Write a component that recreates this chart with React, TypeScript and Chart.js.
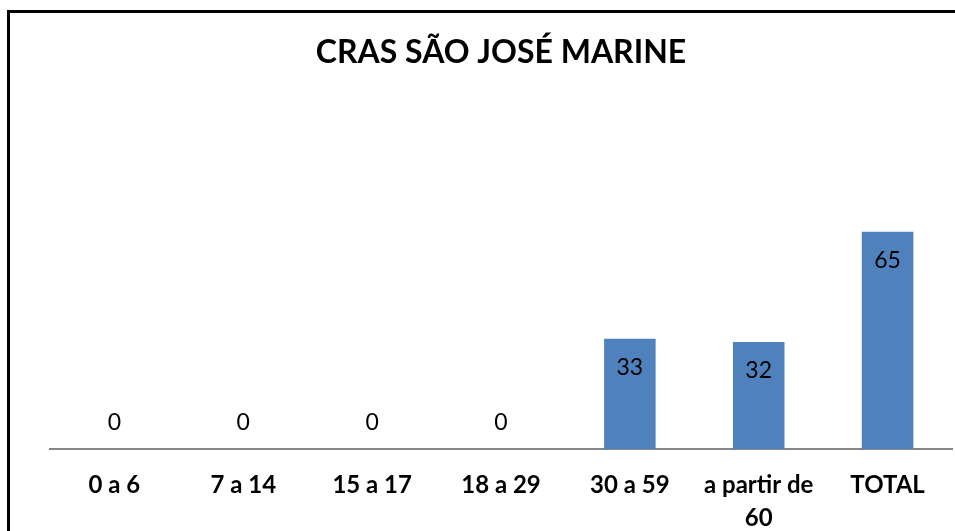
import React, { useEffect, useRef } from "react";
import { Chart, registerables } from "chart.js";

Chart.register(...registerables);

const TITLE = "CRAS SÃO JOSÉ MARINE";
const categories: (string | string[])[] = ["0 a 6", "7 a 14", "15 a 17", "18 a 29", "30 a 59", ["a partir de", "60"], "TOTAL"];
const values = [0, 0, 0, 0, 33, 32, 65];
const FONT = "Lato, 'Open Sans', sans-serif";

const framePlugin = {
  id: "frame",
  beforeDraw(chart: any) {
    const ctx = chart.ctx;
    ctx.save();
    ctx.fillStyle = "#ffffff";
    ctx.fillRect(0, 0, chart.width, chart.height);
    ctx.strokeStyle = "#000000";
    ctx.lineWidth = 3;
    ctx.beginPath();
    ctx.moveTo(8.5, chart.height + 5);
    ctx.lineTo(8.5, 11.5);
    ctx.lineTo(chart.width + 5, 11.5);
    ctx.stroke();
    ctx.restore();
  },
};

const labelPlugin = {
  id: "valueLabels",
  afterDatasetsDraw(chart: any) {
    const ctx = chart.ctx;
    const meta = chart.getDatasetMeta(0);
    ctx.save();
    ctx.fillStyle = "#000000";
    ctx.font = `23px ${FONT}`;
    ctx.textAlign = "center";
    ctx.textBaseline = "middle";
    meta.data.forEach((bar: any, i: number) => {
      const v = values[i];
      const y = v === 0 ? bar.base - 26 : bar.y + 29;
      ctx.fillText(String(v), bar.x, y);
    });
    ctx.restore();
  },
};

export default function App() {
  const ref = useRef<HTMLCanvasElement | null>(null);
  useEffect(() => {
    if (!ref.current) return;
    const chart = new Chart(ref.current, {
      type: "bar",
      data: {
        labels: categories,
        datasets: [
          {
            data: values,
            backgroundColor: "#4F81BD",
            borderWidth: 0,
            barPercentage: 0.4,
            categoryPercentage: 1,
          },
        ],
      },
      options: {
        animation: false,
        responsive: false,
        layout: { padding: { left: 50, right: 3, top: 0, bottom: 0 } },
        plugins: {
          legend: { display: false },
          tooltip: { enabled: false },
          title: {
            display: true,
            text: TITLE,
            color: "#000000",
            font: { family: FONT, size: 32, weight: "bold", lineHeight: 1.2 },
            padding: { top: 33, bottom: 143.6 },
          },
        },
        scales: {
          x: {
            grid: { display: false, drawTicks: false },
            border: { display: true, color: "#868686", width: 2 },
            ticks: {
              color: "#000000",
              font: { family: FONT, size: 24, weight: "bold", lineHeight: 1.375 },
              padding: 20,
              maxRotation: 0,
              autoSkip: false,
            },
            afterFit(scale: any) {
              scale.height = 82;
            },
          },
          y: {
            display: false,
            min: 0,
            max: 70,
          },
        },
      },
      plugins: [framePlugin, labelPlugin],
    });
    return () => chart.destroy();
  }, []);
  return (
    <div style={{ position: "fixed", left: 0, top: 0, width: 955, height: 531 }}>
      <canvas ref={ref} width={955} height={531} />
    </div>
  );
}
